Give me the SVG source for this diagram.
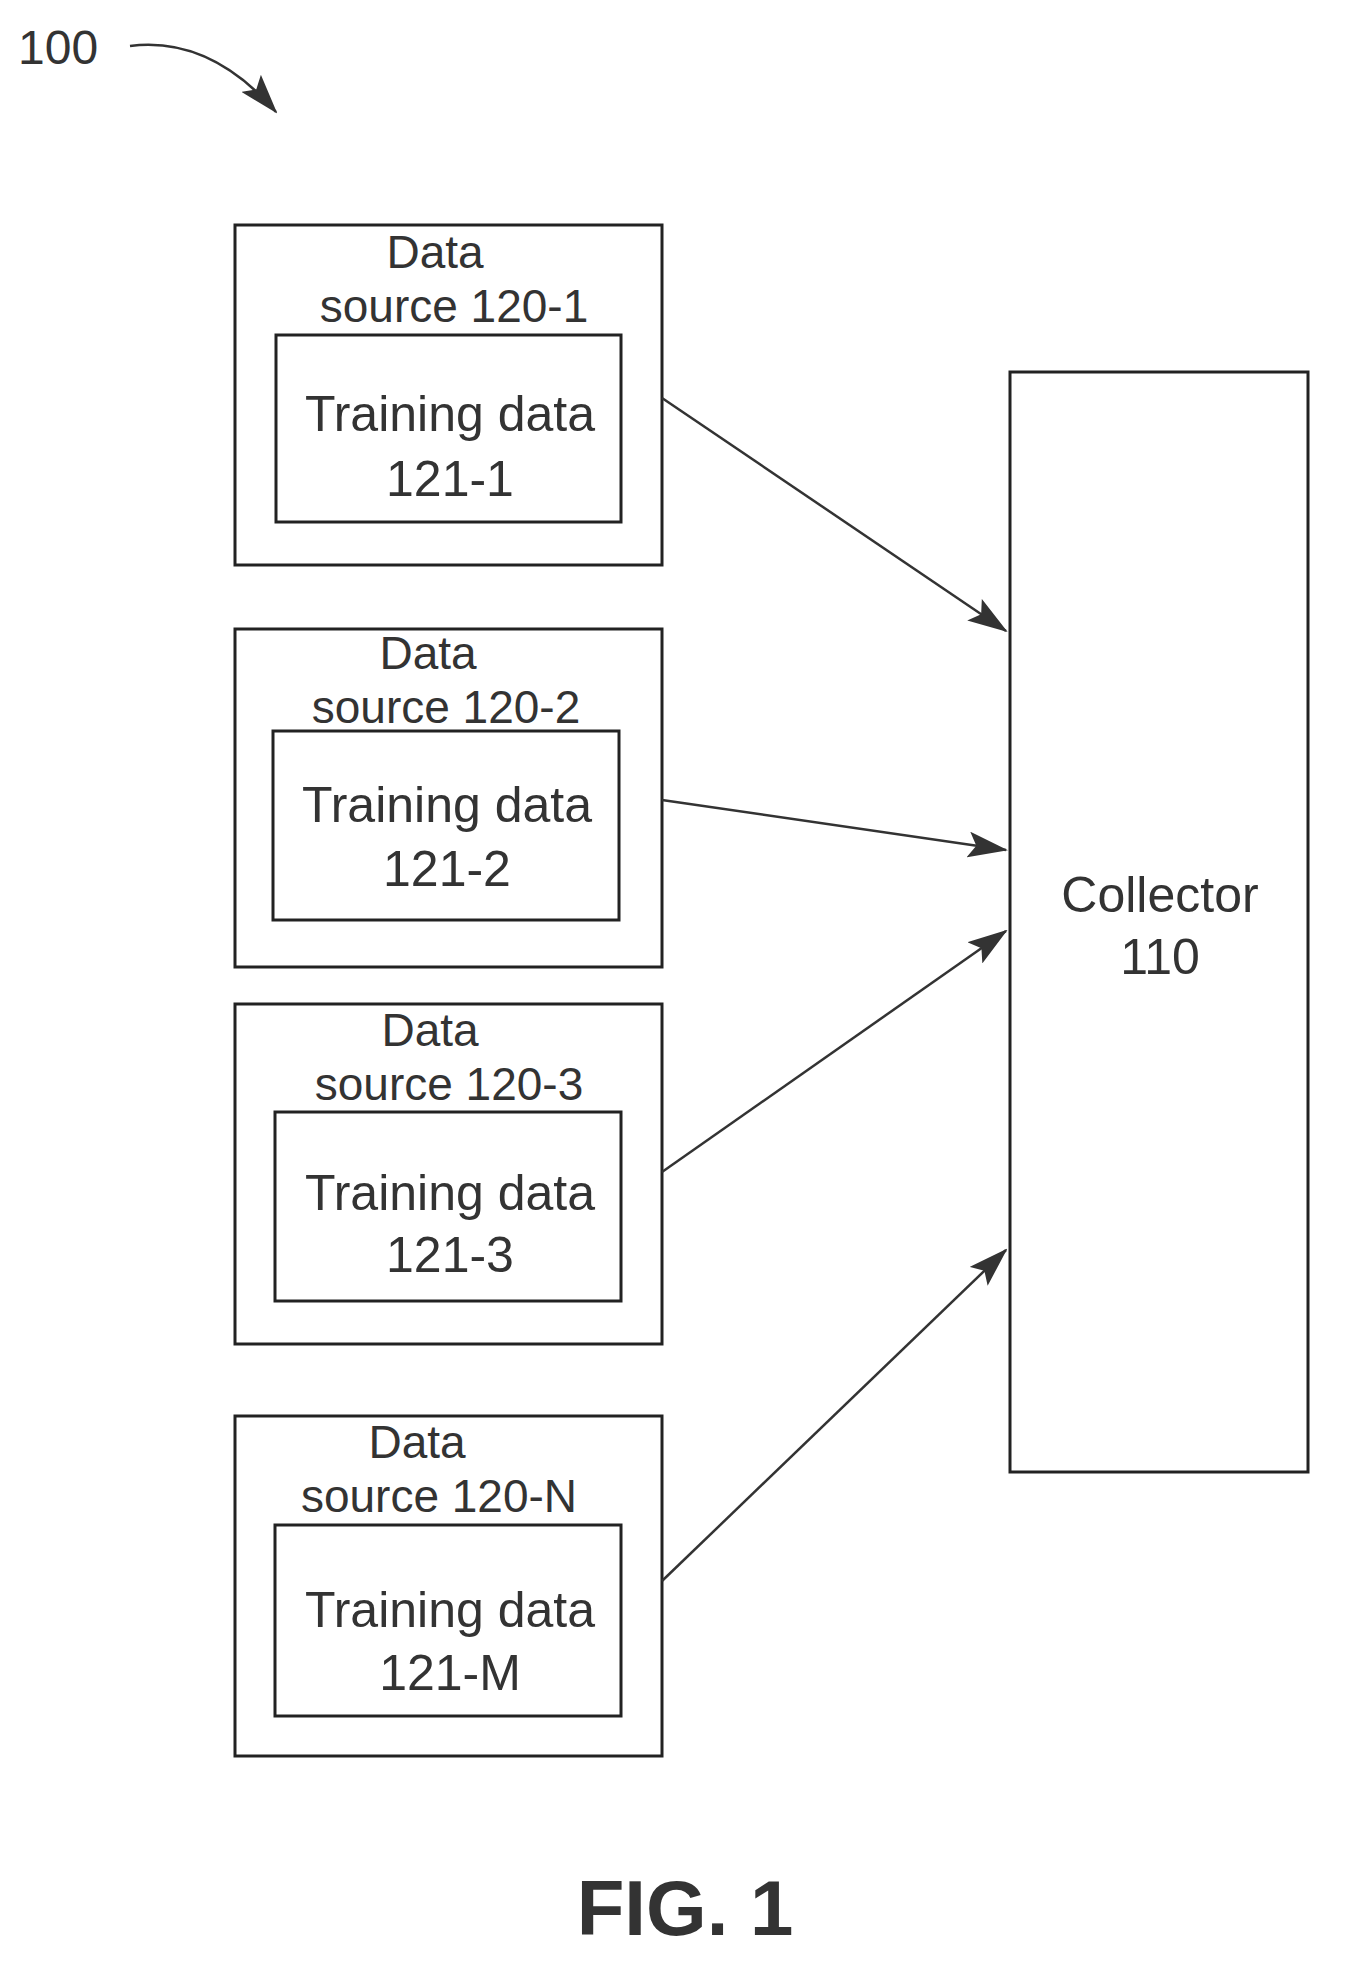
<svg xmlns="http://www.w3.org/2000/svg" width="1350" height="1986" viewBox="0 0 1350 1986">
<style>
.b{fill:#fff;stroke:#222;stroke-width:3}
.t{font-family:"Liberation Sans",Arial,sans-serif;font-size:50px;fill:#333;text-anchor:middle}
.s{font-size:46px}
.c{stroke:#333;stroke-width:2.5;fill:none}
</style>
<defs><marker id="h" markerWidth="40" markerHeight="26" refX="38" refY="13" orient="auto" markerUnits="userSpaceOnUse" viewBox="0 0 40 26"><path d="M0,0 L40,13 L0,26 L8,13 Z" fill="#333"/></marker></defs>
<rect width="1350" height="1986" fill="#fff"/>
<text x="18" y="64" style="font-family:'Liberation Sans',Arial,sans-serif;font-size:48px;fill:#333">100</text>
<path class="c" d="M130,46 Q210,36 276,112" marker-end="url(#h)"/>
<g id="ds1"><rect class="b" x="235" y="225" width="427" height="340"/><rect class="b" x="276" y="335" width="345" height="187"/>
<text class="t s" x="435" y="268">Data</text><text class="t s" x="454" y="322">source  120-1</text><text class="t" x="450" y="431">Training data</text><text class="t" x="450" y="496">121-1</text></g>
<g id="ds2"><rect class="b" x="235" y="629" width="427" height="338"/><rect class="b" x="273" y="731" width="346" height="189"/>
<text class="t s" x="428" y="669">Data</text><text class="t s" x="446" y="723">source  120-2</text><text class="t" x="447" y="822">Training data</text><text class="t" x="447" y="886">121-2</text></g>
<g id="ds3"><rect class="b" x="235" y="1004" width="427" height="340"/><rect class="b" x="275" y="1112" width="346" height="189"/>
<text class="t s" x="430" y="1046">Data</text><text class="t s" x="449" y="1100">source  120-3</text><text class="t" x="450" y="1210">Training data</text><text class="t" x="450" y="1272">121-3</text></g>
<g id="dsN"><rect class="b" x="235" y="1416" width="427" height="340"/><rect class="b" x="275" y="1525" width="346" height="191"/>
<text class="t s" x="417" y="1458">Data</text><text class="t s" x="439" y="1512">source  120-N</text><text class="t" x="450" y="1627">Training data</text><text class="t" x="450" y="1690">121-M</text></g>
<g id="collector"><rect class="b" x="1010" y="372" width="298" height="1100"/>
<text class="t" x="1160" y="912">Collector</text><text class="t" x="1160" y="974">110</text></g>
<g id="connectors">
<line class="c" x1="662" y1="398" x2="1006" y2="631" marker-end="url(#h)"/>
<line class="c" x1="662" y1="800" x2="1006" y2="850" marker-end="url(#h)"/>
<line class="c" x1="662" y1="1172" x2="1006" y2="931" marker-end="url(#h)"/>
<line class="c" x1="662" y1="1581" x2="1006" y2="1250" marker-end="url(#h)"/>
</g>
<text x="685" y="1935" style="font-family:'Liberation Sans',Arial,sans-serif;font-size:78px;font-weight:bold;fill:#333;text-anchor:middle">FIG. 1</text>
</svg>
